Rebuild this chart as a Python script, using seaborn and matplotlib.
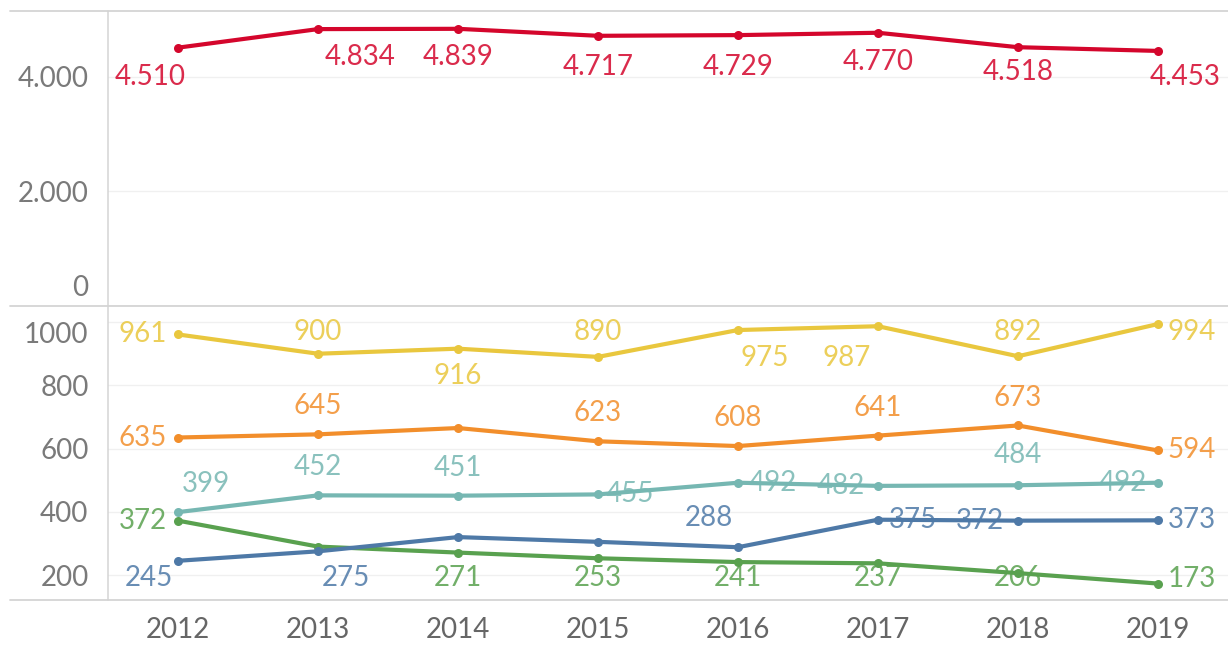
import matplotlib
matplotlib.use("Agg")
import matplotlib.pyplot as plt
import matplotlib.transforms as mtrans
from matplotlib.lines import Line2D
import pandas as pd
import seaborn as sns

YEARS = [2012, 2013, 2014, 2015, 2016, 2017, 2018, 2019]
RED = [4510, 4834, 4839, 4717, 4729, 4770, 4518, 4453]
YELLOW = [961, 900, 916, 890, 975, 987, 892, 994]
ORANGE = [635, 645, 665, 623, 608, 641, 673, 594]
TEAL = [399, 452, 451, 455, 492, 482, 484, 492]
BLUE = [245, 275, 320, 305, 288, 375, 372, 373]
GREEN = [372, 290, 271, 253, 241, 237, 206, 173]

TOP_TICKS = [0, 2000, 4000]
BOTTOM_TICKS = [200, 400, 600, 800, 1000]

# label offsets in pixels from the point (None = no label shown)
RED_OFF = [(-28, -29), (42, -28), (0, -28), (0, -31), (0, -32), (0, -29), (0, -25), (27, -26)]
YELLOW_OFF = [(-35, 0), (0, 22), (0, -27), (0, 25), (27, -28), (-31, -32), (0, 24), (34, -8)]
ORANGE_OFF = [(-35, 0), (0, 28), None, (0, 28), (0, 28), (0, 28), (0, 27), (34, 0)]
TEAL_OFF = [(28, 28), (0, 28), (0, 28), (32, 0), (35, 0), (-37, 0), (0, 30), (-35, 0)]
BLUE_OFF = [(-29, -17), (28, -27), None, None, (-29, 29), (35, 0), (-38, 0), (34, 0)]
GREEN_OFF = [(-35, 0), None, (0, -25), (0, -20), (0, -16), (0, -15), (0, -5), (34, 5)]

C_RED = "#d4062c"
C_YELLOW = "#e9c73e"
C_ORANGE = "#f28e2b"
C_TEAL = "#76b7b2"
C_BLUE = "#4e79a7"
C_GREEN = "#59a14f"

sns.set_theme(style="white")
plt.rcParams["font.family"] = ["Lato", "DejaVu Sans"]

W, H = 1228, 645
fig = plt.figure(figsize=(W / 100, H / 100), dpi=100)
left = 108 / W
ax_top = fig.add_axes([left, 1 - 306 / H, 1 - left, 295 / H])
ax_bot = fig.add_axes([left, 1 - 600 / H, 1 - left, 294 / H])

FS = 20


def fmt(v):
    return f"{v:,}".replace(",", ".")


def draw(ax, vals, color, offs):
    df = pd.DataFrame({"year": YEARS, "value": vals})
    sns.lineplot(data=df, x="year", y="value", ax=ax, color=color, lw=3,
                 marker="o", markersize=6.5, markeredgewidth=0)
    for x, v, o in zip(YEARS, vals, offs):
        if o is None:
            continue
        ax.annotate(fmt(v), (x, v), xytext=o, textcoords="offset pixels",
                    ha="center", va="center", fontsize=FS, color=color, alpha=0.85)


draw(ax_top, RED, C_RED, RED_OFF)
for vals, c, o in [(YELLOW, C_YELLOW, YELLOW_OFF), (ORANGE, C_ORANGE, ORANGE_OFF),
                   (TEAL, C_TEAL, TEAL_OFF), (GREEN, C_GREEN, GREEN_OFF),
                   (BLUE, C_BLUE, BLUE_OFF)]:
    draw(ax_bot, vals, c, o)

ax_top.set_ylim(0, 5150)
ax_bot.set_ylim(121, 1051)
for ax in (ax_top, ax_bot):
    ax.set_xlim(2011.5, 2019.5)
    ax.set_xlabel("")
    ax.set_ylabel("")
    for s in ax.spines.values():
        s.set_visible(False)
    ax.grid(axis="y", color="#f0f0f0", lw=1)
    ax.set_axisbelow(True)
    ax.tick_params(axis="y", length=0, pad=14, labelsize=FS, labelcolor="#7a7a7a")
    ax.patch.set_alpha(0)

ax_top.set_xticks([])
ax_top.set_yticks(TOP_TICKS)
ax_top.set_yticklabels([fmt(t) for t in TOP_TICKS])
ax_bot.set_yticks(BOTTOM_TICKS)
ax_bot.set_yticklabels([str(t) for t in BOTTOM_TICKS])
ax_bot.set_xticks(YEARS)
ax_bot.set_xticklabels([str(y) for y in YEARS])
ax_bot.tick_params(axis="x", length=0, pad=12, labelsize=FS, labelcolor="#666666")

# nudge edge tick labels inside their pane, the way the original does
fig.canvas.draw()
ax_top.get_yticklabels()[0].set_transform(
    ax_top.get_yticklabels()[0].get_transform()
    + mtrans.ScaledTranslation(0, 0.21, fig.dpi_scale_trans))
ax_bot.get_yticklabels()[-1].set_transform(
    ax_bot.get_yticklabels()[-1].get_transform()
    + mtrans.ScaledTranslation(0, -0.10, fig.dpi_scale_trans))

# pane borders
for ypx in (11, 306, 600):
    fig.add_artist(Line2D([10 / W, 1], [1 - ypx / H] * 2, color="#d4d4d4", lw=1.3))
fig.add_artist(Line2D([left, left], [1 - 11 / H, 1 - 600 / H], color="#d4d4d4", lw=1.1))

fig.savefig("out.png", dpi=100)
